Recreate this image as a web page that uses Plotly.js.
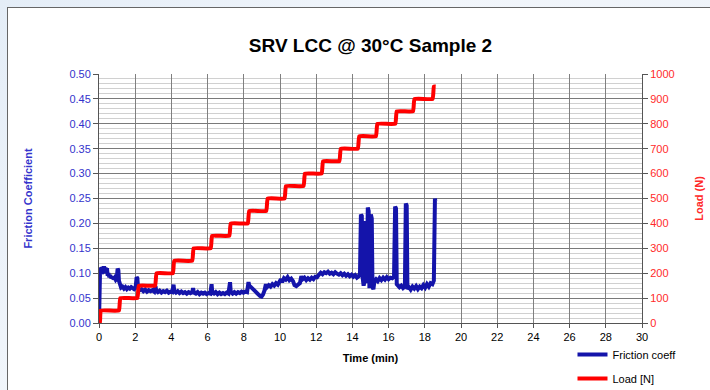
<!DOCTYPE html>
<html>
<head>
<meta charset="utf-8">
<script src="https://cdn.plot.ly/plotly-3.0.1.min.js"></script>
<style>
  html, body { margin: 0; padding: 0; width: 710px; height: 390px; overflow: hidden;
    background: linear-gradient(135deg, #e4edf7 0%, #f2f6fb 40%, #eef3f9 70%, #dfe9f5 100%); }
  #frame { position: absolute; left: 7px; top: 7px; width: 710px; height: 390px; background: #ffffff;
    border-left: 1px solid #666; border-top: 1px solid #666; }
  #chart { position: absolute; left: 0; top: 0; width: 710px; height: 390px; }
</style>
</head>
<body>
<div id="frame"></div>
<div id="chart"></div>
<script>
// Friction coefficient (time in min, value)
const frictionTime = [
  0.00, 0.03, 0.06, 0.10, 0.13, 0.17, 0.20, 0.24, 0.28, 0.32, 0.36, 0.40, 0.44, 0.48, 0.52, 0.56, 0.62, 0.68, 0.74, 0.80,
  0.86, 0.92, 0.98, 1.03, 1.07, 1.10, 1.15, 1.22, 1.30, 1.38, 1.46, 1.54, 1.62, 1.70, 1.78, 1.86, 1.94, 2.02, 2.08, 2.12,
  2.16, 2.25, 2.35, 2.45, 2.55, 2.65, 2.75, 2.85, 2.95, 3.05, 3.12, 3.16, 3.25, 3.35, 3.45, 3.55, 3.65, 3.75, 3.85, 3.95,
  4.05, 4.12, 4.16, 4.25, 4.35, 4.45, 4.55, 4.65, 4.75, 4.85, 4.95, 5.05, 5.15, 5.20, 5.24, 5.35, 5.45, 5.55, 5.65, 5.75,
  5.85, 5.95, 6.05, 6.15, 6.22, 6.26, 6.35, 6.45, 6.55, 6.65, 6.75, 6.85, 6.95, 7.05, 7.15, 7.24, 7.28, 7.38, 7.48, 7.58,
  7.68, 7.78, 7.88, 7.98, 8.08, 8.18, 8.26, 8.30, 8.40, 8.50, 8.60, 8.70, 8.80, 8.90, 8.98, 9.06, 9.14, 9.22, 9.28, 9.38,
  9.48, 9.58, 9.68, 9.78, 9.88, 9.98, 10.05, 10.12, 10.22, 10.32, 10.42, 10.52, 10.62, 10.72, 10.80, 10.90, 11.00, 11.10, 11.18, 11.25,
  11.35, 11.45, 11.55, 11.65, 11.75, 11.85, 11.95, 12.05, 12.15, 12.25, 12.35, 12.45, 12.55, 12.65, 12.75, 12.85, 12.95, 13.05, 13.15, 13.25,
  13.35, 13.45, 13.55, 13.65, 13.75, 13.85, 13.95, 14.05, 14.15, 14.25, 14.35, 14.42, 14.47, 14.52, 14.57, 14.62, 14.68, 14.72, 14.76, 14.80,
  14.85, 14.90, 14.94, 14.98, 15.02, 15.07, 15.11, 15.16, 15.22, 15.30, 15.40, 15.50, 15.60, 15.70, 15.80, 15.90, 16.00, 16.10, 16.20, 16.30,
  16.36, 16.41, 16.45, 16.52, 16.60, 16.70, 16.80, 16.90, 16.95, 17.00, 17.04, 17.12, 17.22, 17.32, 17.42, 17.52, 17.62, 17.72, 17.82, 17.92,
  18.02, 18.12, 18.22, 18.32, 18.42, 18.50, 18.56, 18.58
];
const frictionValue = [
  0.000, 0.095, 0.110, 0.100, 0.112, 0.098, 0.113, 0.105, 0.114, 0.100, 0.111, 0.104, 0.110, 0.095, 0.100, 0.092, 0.096, 0.090, 0.093, 0.088,
  0.091, 0.087, 0.090, 0.109, 0.106, 0.085, 0.074, 0.071, 0.073, 0.069, 0.072, 0.068, 0.071, 0.069, 0.072, 0.070, 0.068, 0.071, 0.092, 0.090,
  0.070, 0.066, 0.068, 0.064, 0.067, 0.063, 0.066, 0.064, 0.066, 0.063, 0.074, 0.065, 0.062, 0.065, 0.061, 0.064, 0.062, 0.065, 0.061, 0.063,
  0.062, 0.077, 0.064, 0.061, 0.064, 0.060, 0.063, 0.060, 0.062, 0.059, 0.062, 0.060, 0.062, 0.070, 0.061, 0.059, 0.062, 0.058, 0.061, 0.059,
  0.061, 0.058, 0.060, 0.059, 0.078, 0.061, 0.059, 0.062, 0.058, 0.061, 0.058, 0.060, 0.058, 0.061, 0.059, 0.082, 0.062, 0.059, 0.062, 0.059,
  0.062, 0.060, 0.063, 0.061, 0.063, 0.062, 0.082, 0.075, 0.072, 0.068, 0.064, 0.060, 0.056, 0.054, 0.053, 0.057, 0.065, 0.078, 0.072, 0.076,
  0.073, 0.078, 0.075, 0.080, 0.077, 0.083, 0.088, 0.082, 0.090, 0.087, 0.092, 0.086, 0.089, 0.084, 0.076, 0.074, 0.078, 0.080, 0.094, 0.088,
  0.091, 0.086, 0.090, 0.087, 0.091, 0.088, 0.093, 0.092, 0.097, 0.101, 0.098, 0.102, 0.100, 0.103, 0.099, 0.101, 0.098, 0.102, 0.099, 0.097,
  0.100, 0.096, 0.099, 0.095, 0.098, 0.094, 0.097, 0.093, 0.096, 0.091, 0.094, 0.100, 0.218, 0.215, 0.090, 0.075, 0.085, 0.205, 0.200, 0.080,
  0.232, 0.225, 0.070, 0.085, 0.218, 0.210, 0.072, 0.068, 0.085, 0.088, 0.084, 0.090, 0.086, 0.091, 0.087, 0.092, 0.088, 0.091, 0.090, 0.093,
  0.234, 0.230, 0.078, 0.074, 0.072, 0.075, 0.070, 0.073, 0.240, 0.236, 0.068, 0.072, 0.067, 0.073, 0.069, 0.074, 0.068, 0.073, 0.070, 0.076,
  0.071, 0.078, 0.073, 0.080, 0.078, 0.085, 0.250, 0.245
];
// Load [N] step profile
const loadTime = [
  0.00, 0.05, 0.10, 1.10, 1.18, 2.12, 2.20, 3.10, 3.18, 4.08, 4.16, 5.15, 5.23, 6.17, 6.25, 7.20, 7.28, 8.22, 8.30, 9.24,
  9.32, 10.25, 10.33, 11.30, 11.38, 12.30, 12.38, 13.28, 13.36, 14.30, 14.38, 15.30, 15.38, 16.37, 16.45, 17.35, 17.43, 18.43, 18.50, 18.60
];
const loadValue = [
  0, 0, 50, 50, 100, 100, 150, 150, 200, 200, 250, 250, 300, 300, 350, 350, 400, 400, 450, 450,
  500, 500, 550, 550, 600, 600, 650, 650, 700, 700, 750, 750, 800, 800, 850, 850, 900, 900, 950, 950
];

const FONT = 'Liberation Sans, Arial, sans-serif';
const BLUE = '#1414aa';
const BLUE_TXT = '#3333cc';
const RED = '#ff0000';
const RED_TXT = '#ff2a2a';

const traces = [
  { x: frictionTime, y: frictionValue, type: 'scatter', mode: 'lines', name: 'Friction coeff',
    line: { color: BLUE, width: 4 }, yaxis: 'y', legendgroup: 'a' },
  { x: loadTime, y: loadValue, type: 'scatter', mode: 'lines', name: 'Load [N]',
    line: { color: RED, width: 4, shape: 'spline', smoothing: 0.3 }, yaxis: 'y2', legendgroup: 'b' }
];

const layout = {
  width: 710, height: 390,
  paper_bgcolor: 'rgba(0,0,0,0)', plot_bgcolor: '#ffffff',
  margin: { l: 99, r: 68, t: 74, b: 67, autoexpand: false },
  font: { family: FONT, size: 11, color: '#000' },
  title: { text: '<b>SRV LCC @ 30°C Sample 2</b>', font: { family: FONT, size: 19, color: '#000' },
    x: 0.5, xref: 'paper', xanchor: 'center', y: 1 - 45/390, yref: 'container', yanchor: 'middle' },
  xaxis: {
    range: [0, 30], dtick: 2, tick0: 0,
    showgrid: true, gridcolor: '#808080', gridwidth: 1,
    showline: true, linecolor: '#555', linewidth: 1, mirror: false,
    ticks: 'outside', ticklen: 4, tickcolor: '#555',
    tickfont: { family: FONT, size: 11, color: '#000' },
    zeroline: false, automargin: false,
    title: { text: '<b>Time (min)</b>', font: { family: FONT, size: 11, color: '#000' }, standoff: 12 }
  },
  yaxis: {
    range: [0, 0.5], dtick: 0.05, tick0: 0, tickformat: '.2f',
    showgrid: true, gridcolor: '#7a7a7a', gridwidth: 1,
    minor: { dtick: 0.01, showgrid: true, gridcolor: '#d0d0d0', gridwidth: 1, ticks: '' },
    showline: true, linecolor: '#555', linewidth: 1,
    ticks: 'outside', ticklen: 5, tickcolor: '#555',
    tickfont: { family: FONT, size: 11, color: BLUE_TXT },
    zeroline: false, automargin: false,
    title: { text: '<b>Friction Coefficient</b>', font: { family: FONT, size: 11, color: BLUE_TXT }, standoff: 34 }
  },
  yaxis2: {
    range: [0, 1000], dtick: 100, tick0: 0, overlaying: 'y', side: 'right',
    showgrid: false, zeroline: false, automargin: false,
    showline: true, linecolor: '#555', linewidth: 1,
    ticks: 'outside', ticklen: 5, tickcolor: '#555',
    tickfont: { family: FONT, size: 11, color: RED_TXT },
    title: { text: '<b>Load (N)</b>', font: { family: FONT, size: 11, color: RED_TXT }, standoff: 21 }
  },
  showlegend: true,
  legend: { x: 0.872, xanchor: 'left', y: -0.068, yanchor: 'top', bgcolor: 'rgba(0,0,0,0)',
    font: { family: FONT, size: 11, color: '#000' }, itemwidth: 30, tracegroupgap: 5, traceorder: 'grouped' }
};

Plotly.newPlot('chart', traces, layout, { displayModeBar: false, staticPlot: true });
</script>
</body>
</html>
